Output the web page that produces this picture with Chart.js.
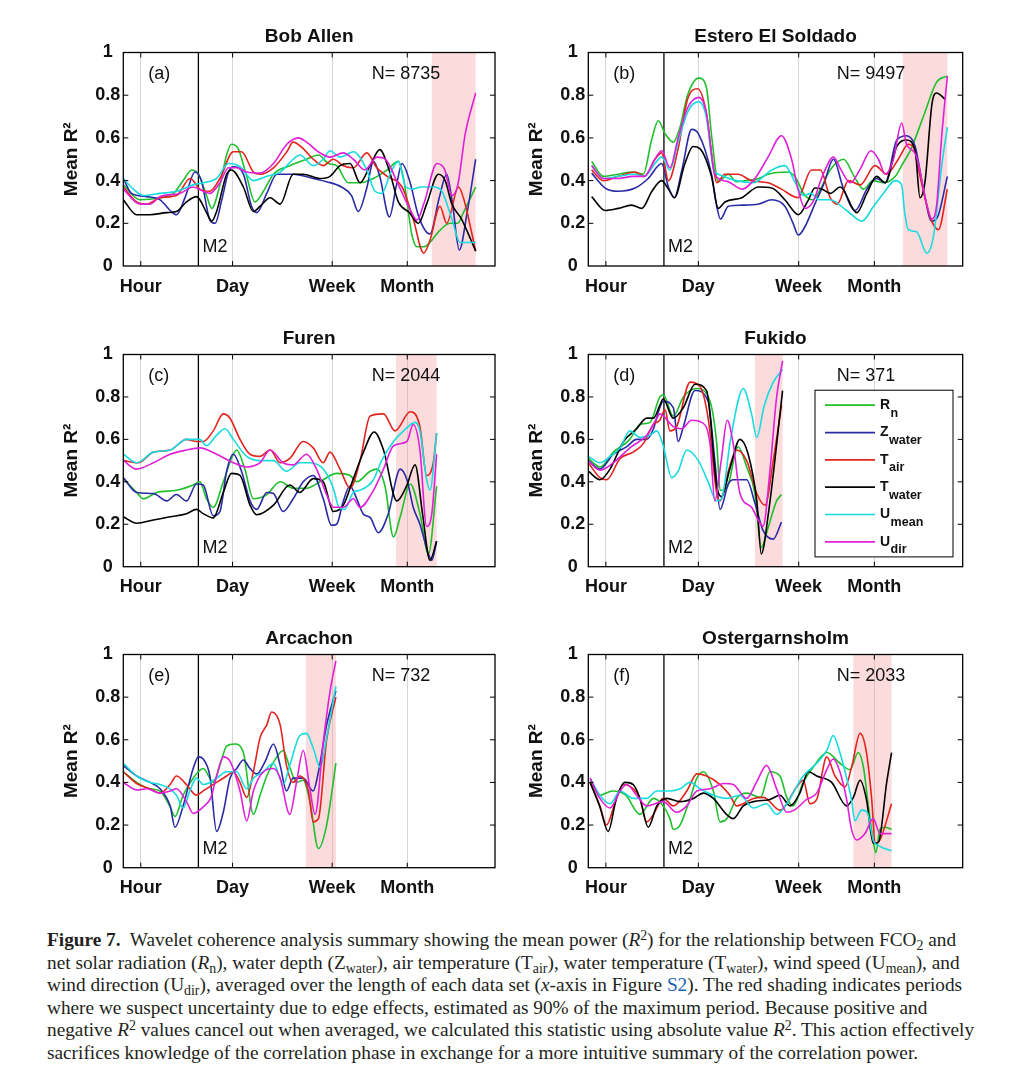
<!DOCTYPE html>
<html>
<head>
<meta charset="utf-8">
<script src="https://cdn.jsdelivr.net/npm/chart.js@4.4.1/dist/chart.umd.min.js"></script>
<style>
  html, body { margin: 0; padding: 0; background: #ffffff; }
  body { width: 1016px; height: 1077px; position: relative; overflow: hidden; }
  canvas { position: absolute; }
  #cap { position: absolute; left: 47px; top: 929px; font-family: "Liberation Serif", "Times New Roman", serif;
         font-size: 19.3px; line-height: 22.6px; color: #231f20; white-space: nowrap; }
  #cap sub { font-size: 0.72em; line-height: 0; vertical-align: -0.28em; }
  #cap sup { font-size: 0.72em; line-height: 0; vertical-align: 0.45em; }
  #cap .lnk { color: #1a5fb4; }
</style>
</head>
<body>
<div id="cap">
<div><b>Figure 7.</b>&nbsp; Wavelet coherence analysis summary showing the mean power (<i>R</i><sup>2</sup>) for the relationship between FCO<sub>2</sub> and</div>
<div>net solar radiation (<i>R</i><sub>n</sub>), water depth (Z<sub>water</sub>), air temperature (T<sub>air</sub>), water temperature (T<sub>water</sub>), wind speed (U<sub>mean</sub>), and</div>
<div>wind direction (U<sub>dir</sub>), averaged over the length of each data set (<i>x</i>-axis in Figure <span class="lnk">S2</span>). The red shading indicates periods</div>
<div>where we suspect uncertainty due to edge effects, estimated as 90% of the maximum period. Because positive and</div>
<div>negative <i>R</i><sup>2</sup> values cancel out when averaged, we calculated this statistic using absolute value <i>R</i><sup>2</sup>. This action effectively</div>
<div>sacrifices knowledge of the correlation phase in exchange for a more intuitive summary of the correlation power.</div>
</div>
<script>
// ---------------- DATA ----------------
const PERIOD_TICKS = [4.7, 29.4, 56.2, 76.4];
const PERIOD_LABELS = ['Hour', 'Day', 'Week', 'Month'];
const M2_POS = 20.2;

const SITE_TITLES = ['Bob Allen', 'Estero El Soldado', 'Furen', 'Fukido', 'Arcachon', 'Ostergarnsholm'];
const SITE_TAGS = ['(a)', '(b)', '(c)', '(d)', '(e)', '(f)'];
const SITE_N = [8735, 9497, 2044, 371, 732, 2033];
const SHADE_START = [83, 84, 73.4, 44.5, 49.1, 70.8];
const SHADE_END = [94.8, 95.9, 84.3, 51.9, 57.2, 81];

const SERIES_MAIN = ['R', 'Z', 'T', 'T', 'U', 'U'];
const SERIES_SUB = ['n', 'water', 'air', 'water', 'mean', 'dir'];

// (a) Bob Allen
const A_RN = [[0,.38],[4.5,.31],[9.9,.32],[13.5,.34],[16.1,.40],[18.4,.45],[20.2,.43],[22.4,.33],[23.8,.27],[26,.38],[27.8,.52],[29.1,.57],[30.9,.55],[33.2,.42],[35.4,.30],[37.7,.35],[40.4,.43],[44.8,.47],[49.3,.50],[52.5,.52],[55.2,.48],[57.4,.47],[60.5,.39],[63.7,.39],[67.3,.41],[71,.45],[74,.49],[75.5,.40],[77.6,.15],[79,.09],[80.8,.09],[82.5,.11],[84.8,.16],[87.9,.20],[90,.20],[91.5,.25],[94.8,.37]];
const A_ZW = [[0,.41],[2.2,.34],[6.3,.325],[9.9,.31],[12.6,.26],[14.3,.24],[16.6,.32],[19.3,.44],[21,.40],[23.3,.215],[24.7,.20],[26.5,.31],[28.3,.44],[29.6,.465],[32.3,.43],[34.5,.28],[35.9,.25],[38.6,.34],[41.3,.43],[45.7,.43],[51.1,.41],[54.7,.395],[58.7,.37],[61.4,.33],[63.2,.255],[65.5,.365],[67.3,.49],[69,.42],[71.6,.23],[73.5,.38],[75,.48],[77,.40],[79.5,.23],[82.5,.15],[85,.32],[87,.43],[88.5,.30],[90.4,.075],[92.5,.25],[94.8,.50]];
const A_TA = [[0,.37],[3.6,.30],[6.3,.29],[9.9,.32],[14.3,.33],[18,.41],[20.6,.36],[23.3,.35],[26,.41],[29.6,.535],[31.8,.535],[35,.44],[36.8,.43],[40.4,.46],[44,.535],[45.7,.58],[48.4,.55],[51.1,.50],[53.8,.47],[56.5,.50],[59.2,.47],[61.9,.46],[65.5,.53],[68.2,.46],[71,.42],[75,.37],[78,.22],[80.8,.06],[82.5,.12],[85.2,.28],[87,.20],[90.2,.37],[91.5,.32],[94.8,.07]];
const A_TW = [[0,.31],[3.6,.24],[7.2,.24],[11.7,.25],[14.3,.255],[17,.30],[19.7,.325],[20.6,.31],[22.4,.25],[23.8,.21],[25.1,.255],[27.8,.43],[29.1,.45],[32.3,.37],[35,.255],[36.8,.28],[39.5,.32],[42.2,.29],[45.7,.43],[48.4,.43],[52.9,.41],[55.6,.42],[58.3,.47],[61,.48],[63.7,.39],[66.4,.47],[69,.545],[71.5,.45],[74,.30],[77,.25],[79.4,.20],[81.6,.29],[84.8,.43],[86.6,.40],[88.4,.29],[91,.22],[94.8,.07]];
const A_UM = [[0,.41],[2.7,.36],[5.4,.33],[9.9,.34],[14.3,.35],[18.8,.38],[21.5,.39],[25.1,.41],[28.3,.48],[31.4,.465],[35,.40],[38.6,.42],[42.2,.44],[45.7,.50],[47.5,.52],[51.1,.47],[53.8,.50],[55.6,.54],[58.3,.51],[61.9,.535],[65.5,.45],[67.7,.35],[69.5,.34],[72,.44],[74,.49],[76,.37],[78,.36],[80,.37],[83.5,.37],[85.7,.35],[88.4,.22],[90.6,.11],[94.8,.11]];
const A_UD = [[0,.36],[4.5,.29],[7.2,.29],[9.9,.325],[15.2,.34],[18.8,.37],[21.5,.35],[23.3,.34],[26,.39],[28.3,.46],[30.5,.46],[33.2,.44],[36.8,.435],[40.4,.48],[44,.57],[47.1,.60],[49.3,.58],[52.9,.53],[55.6,.51],[59.2,.53],[61.9,.50],[65,.45],[68.2,.51],[70.5,.50],[74,.38],[77,.27],[79,.215],[81,.30],[84.4,.48],[86.5,.45],[88.4,.33],[90,.38],[92,.62],[94.8,.81]];

// (b) Estero El Soldado
const B_RN = [[0.9,.49],[4,.42],[8,.43],[11.6,.44],[14.7,.43],[16.9,.59],[18.7,.68],[20.5,.62],[22.7,.58],[24.5,.65],[26.5,.80],[29.5,.88],[31.5,.84],[33,.60],[34.7,.395],[37.4,.43],[39.5,.395],[42,.40],[45.5,.41],[48,.43],[53.4,.44],[55.5,.41],[57.5,.34],[60,.31],[62,.36],[64.6,.45],[68.2,.50],[71,.42],[73.5,.36],[76,.40],[79,.39],[82,.42],[84,.48],[86,.54],[89.5,.70],[93,.86],[95.9,.89]];
const B_ZW = [[0.9,.435],[4.5,.365],[8,.35],[12.5,.365],[16,.41],[19.6,.48],[21.4,.37],[23,.32],[25,.45],[27.6,.64],[29.4,.62],[32.9,.43],[34.3,.28],[35.3,.22],[37.4,.28],[41,.285],[45.5,.29],[49,.31],[52.5,.28],[54.7,.20],[56.1,.145],[57.9,.185],[60.5,.29],[62.8,.38],[65.5,.50],[68,.37],[71.3,.26],[74.4,.36],[77,.41],[79.3,.39],[82.4,.59],[85,.61],[87.3,.56],[89.5,.36],[91.7,.21],[93.3,.23],[95.9,.42]];
const B_TA = [[0.9,.45],[4,.40],[8,.42],[12.5,.44],[15,.42],[17.8,.50],[19.6,.53],[21.4,.40],[24,.55],[26.5,.78],[29.2,.83],[31.5,.72],[33.5,.45],[34.3,.39],[36.5,.43],[40,.43],[43.5,.40],[48,.39],[51.6,.36],[56,.32],[59.6,.45],[62,.45],[64.6,.32],[66.5,.29],[69.5,.40],[72.6,.38],[76.6,.47],[79.7,.43],[82.8,.50],[85.5,.57],[87,.55],[88.6,.42],[91.3,.23],[93.5,.17],[95.9,.36]];
const B_TW = [[0.9,.325],[4.5,.26],[8,.27],[11.6,.285],[14.3,.27],[17,.35],[19.6,.40],[21.4,.36],[23,.32],[25.8,.48],[28,.56],[29.8,.55],[32.9,.42],[34.7,.27],[36.5,.30],[41,.32],[45.5,.37],[49,.365],[52.5,.31],[55.2,.25],[56.1,.24],[58.8,.31],[60.5,.365],[62.5,.36],[64.6,.34],[67.3,.37],[71.7,.25],[74.4,.34],[77,.42],[79.3,.39],[82.4,.56],[85,.59],[87.3,.54],[88.6,.32],[89.9,.39],[91.8,.76],[93,.81],[95.4,.78]];
const B_UM = [[0.9,.47],[4,.41],[8,.42],[12,.43],[15,.42],[17.8,.48],[19.6,.51],[21.8,.45],[24,.58],[26.5,.72],[29.5,.77],[31.5,.70],[33.5,.45],[34.7,.43],[39.5,.40],[44,.39],[49,.45],[52.5,.47],[55,.40],[57.5,.33],[59.5,.34],[61.5,.31],[64.6,.31],[69,.26],[73.1,.21],[76.2,.28],[78.8,.34],[82,.40],[83.7,.38],[84.5,.25],[85.5,.17],[87.7,.16],[90.4,.06],[92.2,.14],[94.4,.47],[95.9,.65]];
const B_UD = [[0.9,.47],[4,.41],[8,.41],[12,.42],[15,.42],[17.8,.50],[19.6,.54],[21.8,.46],[24,.60],[26.5,.74],[29.5,.79],[31.5,.72],[33.5,.45],[34.7,.41],[37.4,.395],[41,.36],[44.5,.41],[48,.51],[51.6,.61],[54.3,.50],[56,.36],[57.9,.27],[60,.30],[62.5,.42],[65.5,.51],[67.5,.45],[70,.39],[72.5,.45],[75.5,.54],[77.5,.50],[79.3,.43],[81.5,.50],[83.7,.67],[85,.57],[87.5,.52],[90.4,.29],[91.7,.22],[93,.28],[94.4,.61],[95.9,.89]];

// (c) Furen
const C_RN = [[0,.415],[3.6,.35],[5.4,.32],[9,.35],[14.3,.36],[18.8,.385],[20.6,.40],[22.4,.32],[24.2,.28],[26.9,.40],[29.1,.51],[30.5,.55],[32.7,.46],[35,.32],[38.6,.34],[42.2,.40],[45.7,.37],[49.3,.37],[52.9,.40],[57.4,.44],[61,.43],[62.8,.40],[66.4,.45],[68.2,.46],[70.4,.38],[72.7,.14],[74.5,.235],[77.2,.39],[79.8,.25],[82.1,.06],[84.3,.38]];
const C_ZW = [[0,.42],[3.6,.35],[8.1,.345],[11.7,.31],[14.3,.34],[17,.31],[19.7,.39],[21.5,.385],[24.2,.24],[26,.26],[27.8,.45],[29.6,.53],[31.8,.45],[34.1,.31],[35.9,.27],[38.6,.35],[40.4,.345],[43,.26],[45.7,.32],[48.4,.40],[51.1,.43],[53.8,.32],[56,.195],[57.4,.20],[59.2,.31],[61,.38],[62.8,.32],[64.5,.25],[66.5,.23],[68.6,.16],[71.3,.25],[74.5,.46],[76.3,.41],[78,.28],[79.8,.20],[82.1,.06],[83,.03],[84.3,.12]];
const C_TA = [[0,.50],[4,.49],[8.1,.54],[12.6,.55],[17,.60],[19.7,.59],[21.5,.59],[24.2,.64],[26.9,.72],[28.7,.70],[31.4,.60],[34.1,.53],[36.8,.52],[39.5,.55],[42.2,.49],[44.8,.51],[48.4,.59],[51.1,.56],[53.8,.49],[55.6,.54],[58.3,.46],[61,.37],[63.7,.50],[66.4,.71],[70,.72],[73.1,.64],[77.2,.73],[79.8,.66],[81.6,.43],[83.4,.49],[84.3,.63]];
const C_TW = [[0,.235],[3.6,.205],[8.1,.22],[12.6,.235],[17,.25],[19.7,.27],[21.5,.25],[24.2,.23],[26.9,.35],[29.1,.44],[31.4,.43],[34.1,.29],[35.9,.245],[40.4,.29],[44.8,.385],[47.5,.35],[51.1,.415],[53.8,.40],[56.5,.26],[59.2,.29],[61.9,.415],[64.6,.54],[67.5,.635],[70,.55],[73.6,.31],[76.2,.38],[78.5,.48],[80.5,.25],[82.5,.03],[84.3,.12]];
const C_UM = [[0,.53],[3.6,.49],[8.1,.54],[12.6,.55],[17,.60],[20.6,.60],[22.4,.57],[25.1,.62],[27.4,.65],[29.6,.60],[33.2,.52],[36.8,.50],[40.4,.50],[43.9,.45],[47.5,.49],[50.2,.49],[53.8,.46],[56.5,.37],[58,.28],[59.5,.27],[61.9,.35],[63.7,.36],[67.3,.41],[69.5,.50],[72.7,.59],[75.4,.64],[78.5,.68],[79.8,.64],[81.6,.41],[82.5,.36],[84.3,.63]];
const C_UD = [[0,.50],[3.6,.46],[8.1,.49],[12.6,.53],[17,.55],[20.6,.56],[25.1,.53],[29.6,.49],[33.2,.47],[36.8,.49],[39.5,.55],[43,.49],[45.7,.48],[49.3,.53],[52,.46],[54.7,.34],[56.5,.28],[59.2,.28],[61.9,.32],[63.7,.28],[67.3,.36],[70,.46],[72.7,.57],[76.3,.59],[78,.67],[79.8,.55],[81.6,.19],[83,.25],[84.3,.53]];

// (d) Fukido
const D_RN = [[0,.51],[3.1,.47],[6.7,.54],[11.1,.60],[13.8,.67],[16.5,.68],[19.1,.80],[20,.81],[22.7,.71],[25.4,.80],[28.9,.84],[32.5,.78],[34.3,.58],[35.2,.36],[37.1,.375],[40,.565],[42.3,.47],[44.5,.345],[46.2,.09],[47.8,.17],[50.3,.31],[51.6,.34]];
const D_ZW = [[0,.50],[3.1,.46],[6.7,.53],[10.2,.565],[12.9,.60],[15.6,.60],[17.4,.65],[19.1,.75],[20,.78],[22.7,.75],[24,.59],[25.4,.66],[28.5,.83],[32,.78],[33.8,.50],[35.2,.27],[37.4,.39],[38.7,.41],[42.3,.41],[44.5,.30],[46.7,.17],[49.4,.13],[51.6,.21]];
const D_TA = [[0,.49],[3.1,.42],[4.9,.41],[8.5,.51],[12,.54],[14.7,.58],[17.4,.67],[19.1,.69],[20.5,.74],[21.8,.64],[23.6,.66],[27.2,.87],[29.8,.85],[32,.70],[34.3,.345],[35.2,.31],[37.4,.45],[39.6,.55],[42.3,.50],[45,.345],[47.2,.29],[49.4,.50],[51.6,.76]];
const D_TW = [[0,.45],[3.1,.41],[5.8,.46],[9.4,.59],[12.9,.65],[15.6,.70],[17.4,.70],[19.1,.76],[20,.79],[22.7,.70],[25.4,.75],[28.5,.86],[31.6,.83],[34.3,.38],[35.6,.33],[37.8,.46],[40.5,.60],[42.7,.53],[45,.31],[46.2,.06],[48.1,.25],[51.9,.83]];
const D_UM = [[0,.52],[3.1,.49],[5.8,.52],[8.5,.56],[11.1,.64],[13.8,.61],[16.5,.62],[18.3,.64],[20,.57],[22.3,.42],[24,.45],[26.3,.55],[29.4,.50],[32,.40],[34.3,.31],[35.6,.32],[38,.60],[41.4,.84],[43.6,.72],[45,.61],[47,.76],[49.4,.87],[51.9,.93]];
const D_UD = [[0,.50],[3.1,.455],[6.7,.49],[11.1,.56],[15.6,.62],[18.3,.70],[19.1,.72],[22.7,.66],[24.9,.65],[27.6,.69],[30.3,.68],[32.5,.58],[33.8,.31],[35.5,.50],[37.1,.69],[38.7,.58],[40.5,.345],[43.6,.28],[45.4,.22],[46.7,.19],[48.5,.45],[50.3,.80],[51.9,.97]];

// (e) Arcachon (no water-temperature series visible)
const E_RN = [[0,.45],[3.6,.40],[7.2,.37],[9.9,.36],[12.6,.285],[13.9,.24],[16.1,.34],[18.8,.42],[21.5,.465],[24.2,.40],[26,.48],[27.8,.57],[30,.58],[32.3,.54],[35,.25],[36.8,.34],[38.6,.43],[41.3,.52],[43,.55],[44.8,.47],[46.6,.40],[48.4,.41],[50.2,.31],[52.5,.09],[54.7,.20],[57.2,.49]];
const E_ZW = [[0,.48],[3.6,.43],[7.2,.40],[9.9,.37],[12.6,.29],[13.9,.19],[16.1,.29],[18.8,.465],[20.2,.52],[21.5,.51],[23.3,.43],[25.1,.17],[26.9,.26],[28.7,.42],[30.5,.465],[32.3,.505],[34.1,.465],[35.9,.44],[38.2,.50],[40.4,.58],[42.2,.48],[43.9,.36],[45.7,.42],[48.4,.42],[51.1,.36],[52.5,.45],[54.7,.67],[57.2,.83]];
const E_TA = [[0,.45],[3.6,.395],[7.2,.37],[9.9,.35],[12.6,.39],[14.3,.43],[17,.39],[19.7,.34],[21.5,.36],[25.1,.40],[27.8,.43],[29.6,.45],[31.4,.40],[33.2,.33],[35,.45],[36.8,.61],[38.6,.67],[39.9,.73],[42.2,.67],[43.9,.48],[45.7,.40],[47.5,.43],[49.8,.36],[51.1,.215],[52.5,.23],[54.7,.60],[57.2,.80]];
const E_TW = [];
const E_UM = [[0,.49],[3.6,.43],[7.2,.40],[9.9,.39],[12.6,.37],[14.3,.34],[16.1,.28],[17.9,.36],[19.7,.42],[21.5,.39],[23.3,.40],[25.1,.42],[27.8,.45],[30.5,.45],[33.2,.37],[35,.42],[37.7,.45],[40.4,.49],[43,.39],[44.8,.48],[47.5,.62],[49.3,.63],[51.1,.56],[53,.47],[54.7,.61],[57.2,.85]];
const E_UD = [[0,.40],[3.6,.365],[6.3,.37],[9.9,.35],[12.6,.36],[14.3,.37],[17,.31],[18.8,.255],[21.5,.285],[23.6,.33],[25.1,.43],[26.9,.52],[28.7,.50],[31.4,.36],[33.2,.22],[35,.36],[37.7,.45],[40.4,.465],[42.2,.42],[44.8,.25],[46.6,.40],[48.4,.55],[50.2,.37],[51.6,.25],[53.8,.59],[55.6,.825],[57.2,.97]];

// (f) Ostergarnsholm (no water-depth series visible)
const F_RN = [[0.5,.41],[3.1,.34],[6.5,.36],[10,.34],[13.8,.25],[17.4,.325],[20,.29],[21.8,.23],[22.7,.18],[24.5,.20],[27.2,.325],[29,.42],[30.7,.45],[33.4,.36],[35.2,.215],[37,.23],[39.6,.325],[42.3,.35],[46,.33],[48.5,.45],[51.2,.43],[53,.33],[54.7,.29],[57.4,.40],[60,.47],[63.7,.54],[67.2,.49],[69.9,.46],[72.1,.54],[73.5,.47],[74.8,.29],[76.2,.115],[76.8,.07],[77.9,.18],[79.2,.19],[81,.18]];
const F_ZW = [];
const F_TA = [[0.5,.40],[3.1,.29],[4.9,.20],[6.7,.28],[9.3,.39],[12,.37],[13.8,.325],[15.6,.215],[17.4,.25],[20,.325],[22.7,.29],[26.3,.36],[29,.44],[31.6,.43],[35.2,.39],[37.8,.34],[39.6,.29],[44.1,.325],[46.8,.33],[51.2,.27],[55.7,.38],[57.4,.41],[59.2,.30],[61,.32],[63.7,.52],[65.9,.43],[68.6,.38],[70.3,.47],[72.6,.63],[74.3,.54],[75.7,.32],[76.6,.115],[77.9,.13],[81,.30]];
const F_TW = [[0.5,.40],[3.1,.285],[5.3,.17],[7.5,.325],[9.8,.40],[12,.39],[13.8,.325],[16,.19],[18.3,.29],[21,.325],[24.5,.31],[28.1,.325],[30.7,.35],[33.4,.325],[36.9,.25],[38.7,.23],[41.4,.29],[44.1,.31],[48.5,.32],[51.2,.34],[53.9,.29],[56.5,.35],[58.8,.45],[61,.43],[65,.40],[69,.29],[70.8,.33],[72.6,.41],[74.3,.32],[76.1,.115],[77.5,.12],[79.7,.40],[81,.54]];
const F_UM = [[0.5,.42],[3.1,.34],[5.8,.30],[8.5,.36],[12,.325],[15.6,.325],[18.3,.36],[21.8,.36],[24.5,.37],[27.2,.40],[29.9,.37],[33.4,.34],[37,.325],[40.5,.34],[44.1,.28],[47.6,.30],[50.3,.25],[53,.30],[57.4,.43],[61,.49],[63.7,.55],[65.4,.62],[67.2,.54],[69,.42],[70.3,.32],[71.2,.22],[73,.27],[74.5,.26],[76.1,.13],[77.9,.10],[81,.08]];
const F_UD = [[0.5,.42],[3.1,.325],[5.8,.28],[8.5,.36],[10.2,.39],[12.9,.34],[15.6,.29],[20,.31],[23.6,.26],[26.3,.29],[29,.36],[32.5,.37],[36.1,.395],[38.7,.39],[42.3,.325],[44.9,.40],[47.6,.48],[50.3,.37],[53,.26],[55,.27],[58.3,.32],[61,.35],[63.7,.46],[65.4,.51],[67.2,.45],[69,.32],[70.3,.18],[71.7,.13],[73.9,.16],[76.1,.23],[77.9,.16],[81,.16]];

const SITE_SERIES = [
  [A_RN, A_ZW, A_TA, A_TW, A_UM, A_UD],
  [B_RN, B_ZW, B_TA, B_TW, B_UM, B_UD],
  [C_RN, C_ZW, C_TA, C_TW, C_UM, C_UD],
  [D_RN, D_ZW, D_TA, D_TW, D_UM, D_UD],
  [E_RN, E_ZW, E_TA, E_TW, E_UM, E_UD],
  [F_RN, F_ZW, F_TA, F_TW, F_UM, F_UD]
];

// ---------------- STYLE / LAYOUT ----------------
const FONT = "'Liberation Sans', Arial, Helvetica, sans-serif";
const COLORS = ['#1fbf2b', '#2a2aa6', '#e3231d', '#000000', '#18dbe0', '#e020d8'];
const COL_LEFT = [40, 505];
const ROW_TOP = [17, 319, 619];
const CANVAS_W = 465, CANVAS_H = 285;
const RIGHT_PAD = [10, 7.3];
const YAXIS_W = 83.3;
const XAXIS_H = [36, 37.3, 36.3];

const decor = {
  id: 'decor',
  beforeDatasetsDraw(chart, args, o) {
    const { ctx, chartArea: { top, bottom }, scales: { x } } = chart;
    ctx.save();
    const x0 = x.getPixelForValue(o.shade[0]);
    const x1 = x.getPixelForValue(o.shade[1]);
    ctx.fillStyle = 'rgba(242,150,150,0.34)';
    ctx.fillRect(x0, top, x1 - x0, bottom - top);
    const xm = x.getPixelForValue(M2_POS);
    ctx.strokeStyle = '#000';
    ctx.lineWidth = 1.3;
    ctx.beginPath(); ctx.moveTo(xm, top); ctx.lineTo(xm, bottom); ctx.stroke();
    ctx.restore();
  },
  afterDraw(chart, args, o) {
    const { ctx, chartArea: { top, bottom, left, right }, scales: { x, y } } = chart;
    ctx.save();
    ctx.strokeStyle = '#000';
    ctx.lineWidth = 1.3;
    ctx.strokeRect(left, top, right - left, bottom - top);
    ctx.lineWidth = 1;
    ctx.beginPath();
    [0.2, 0.4, 0.6, 0.8].forEach(v => {
      const py = y.getPixelForValue(v);
      ctx.moveTo(left, py); ctx.lineTo(left + 5, py);
      ctx.moveTo(right, py); ctx.lineTo(right - 5, py);
    });
    PERIOD_TICKS.forEach(v => {
      const px = x.getPixelForValue(v);
      ctx.moveTo(px, bottom); ctx.lineTo(px, bottom - 5);
      ctx.moveTo(px, top); ctx.lineTo(px, top + 5);
    });
    ctx.stroke();
    ctx.fillStyle = '#111';
    ctx.font = '18px ' + FONT;
    ctx.textBaseline = 'middle';
    ctx.textAlign = 'left';
    ctx.fillText(o.tag, left + 25, top + 22);
    ctx.fillText('N= ' + o.n, left + 248.4, top + 22);
    ctx.fillText('M2', x.getPixelForValue(M2_POS) + 4, bottom - 18.5);
    if (o.legend) {
      const L = left + 226.7, T = top + 35.7, W = 138, H = 166.7;
      ctx.fillStyle = '#fff';
      ctx.fillRect(L, T, W, H);
      ctx.strokeStyle = '#000';
      ctx.lineWidth = 1;
      ctx.strokeRect(L, T, W, H);
      chart.data.datasets.forEach((ds, k) => {
        const yy = top + 50.7 + k * 27.33;
        ctx.strokeStyle = COLORS[k];
        ctx.lineWidth = 1.7;
        ctx.beginPath(); ctx.moveTo(left + 236.7, yy); ctx.lineTo(left + 286.7, yy); ctx.stroke();
        ctx.fillStyle = '#111';
        ctx.font = 'bold 14px ' + FONT;
        ctx.fillText(SERIES_MAIN[k], left + 291.7, yy);
        const w = ctx.measureText(SERIES_MAIN[k]).width;
        ctx.font = 'bold 12.5px ' + FONT;
        ctx.fillText(SERIES_SUB[k], left + 291.7 + w + 0.5, yy + 8);
      });
    }
    ctx.restore();
  }
};

function makeChart(i) {
  const col = i % 2, row = Math.floor(i / 2);
  const cv = document.createElement('canvas');
  cv.width = CANVAS_W; cv.height = CANVAS_H;
  cv.style.left = COL_LEFT[col] + 'px';
  cv.style.top = ROW_TOP[row] + 'px';
  cv.style.width = CANVAS_W + 'px';
  cv.style.height = CANVAS_H + 'px';
  document.body.appendChild(cv);

  const datasets = SITE_SERIES[i].map((d, k) => ({
    label: SERIES_MAIN[k] + SERIES_SUB[k],
    data: d,
    borderColor: COLORS[k],
    backgroundColor: COLORS[k],
    borderWidth: 1.6,
    pointRadius: 0,
    fill: false,
    cubicInterpolationMode: 'monotone',
    order: 6 - k
  }));

  new Chart(cv, {
    type: 'line',
    data: { datasets },
    plugins: [decor],
    options: {
      responsive: false,
      animation: false,
      events: [],
      layout: { padding: { left: 0, right: RIGHT_PAD[col], top: 0, bottom: 0 } },
      plugins: {
        legend: { display: false },
        tooltip: { enabled: false },
        title: {
          display: true, text: SITE_TITLES[i], fullSize: false, color: '#111',
          font: { family: FONT, size: 19, weight: 'bold', lineHeight: 1 },
          padding: { top: 10, bottom: 6.5 }
        },
        decor: { tag: SITE_TAGS[i], n: SITE_N[i], shade: [SHADE_START[i], SHADE_END[i]], legend: i === 3 }
      },
      scales: {
        x: {
          type: 'linear', min: 0, max: 100,
          afterBuildTicks: s => { s.ticks = PERIOD_TICKS.map(v => ({ value: v })); },
          afterFit: s => { s.height = XAXIS_H[row]; },
          ticks: {
            autoSkip: false, maxRotation: 0, padding: 10, color: '#111',
            font: { family: FONT, size: 18, weight: 'bold' },
            callback: (v, idx) => PERIOD_LABELS[idx]
          },
          grid: { display: true, color: '#d6d6d6', lineWidth: 1, drawTicks: false },
          border: { display: false }
        },
        y: {
          min: 0, max: 1,
          afterFit: s => { s.width = YAXIS_W; },
          ticks: {
            stepSize: 0.2, crossAlign: 'center', padding: 3, color: '#111',
            font: { family: FONT, size: 18, weight: 'bold' },
            callback: v => String(Math.round(v * 10) / 10)
          },
          grid: { display: false, drawTicks: false },
          border: { display: false },
          title: {
            display: true, text: 'Mean R²', color: '#111',
            font: { family: FONT, size: 19, weight: 'bold' },
            padding: { top: 20.6, bottom: 0 }
          }
        }
      }
    }
  });
}

for (let i = 0; i < 6; i++) makeChart(i);
</script>
</body>
</html>
